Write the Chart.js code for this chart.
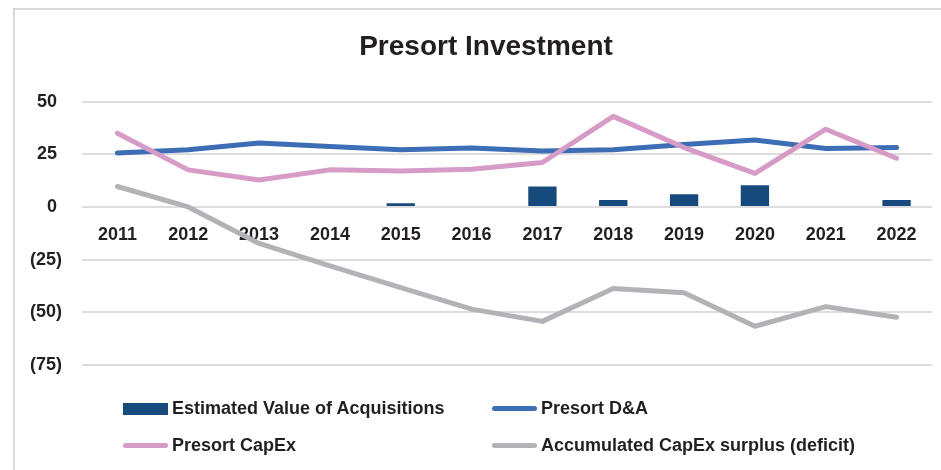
<!DOCTYPE html>
<html><head><meta charset="utf-8">
<script src="https://cdn.jsdelivr.net/npm/chart.js@4/dist/chart.umd.min.js"></script>
<style>
html,body{margin:0;padding:0;background:#fff;}
#wrap{position:relative;width:941px;height:470px;overflow:hidden;font-family:"Liberation Sans",Arial,sans-serif;}
#frame{position:absolute;left:13px;top:8px;width:940px;height:470px;border-left:2px solid #d9d9d9;border-top:2px solid #d9d9d9;}
canvas{position:absolute;left:0;top:0;}
#legend{position:absolute;left:123px;top:390px;display:grid;grid-template-columns:369px auto;grid-auto-rows:37px;}
.leg{display:flex;align-items:center;font-weight:700;font-size:18px;color:#231f20;white-space:nowrap;}
.sw{width:45px;margin-right:4px;}
</style></head>
<body><div id="wrap"><div id="frame"></div><canvas id="c" width="961" height="470"></canvas><div id="legend"></div></div>
<script>
const categories = ['2011','2012','2013','2014','2015','2016','2017','2018','2019','2020','2021','2022'];
const acquisitions = [null,null,null,null,1.8,null,9.7,3.3,6.0,10.3,null,3.3];
const presortDA = [25.6,27.1,30.3,28.7,27.1,28.0,26.6,27.1,29.6,31.8,27.7,28.2];
const presortCapEx = [35.0,17.6,12.8,17.6,17.1,17.9,21.1,43.0,28.2,15.9,36.9,23.1];
const accumulated = [9.7,0,-17.3,-28.0,-38.3,-48.5,-54.3,-38.7,-40.7,-56.6,-47.3,-52.3];
const yTicks = [50,25,0,-25,-50,-75];
const seriesNames = ['Estimated Value of Acquisitions','Presort D&A','Presort CapEx','Accumulated CapEx surplus (deficit)'];

const textColor = '#231f20';
const fontFamily = '"Liberation Sans", Arial, sans-serif';
const tickFont = {family:fontFamily, weight:'bold', size:18};

const chart = new Chart(document.getElementById('c'), {
  type: 'bar',
  data: {
    labels: categories,
    datasets: [
      {type:'bar', label:seriesNames[0], data:acquisitions, backgroundColor:'#174a7c', categoryPercentage:1, barPercentage:0.4},
      {type:'line', label:seriesNames[1], data:presortDA, borderColor:'#3d6db5', backgroundColor:'#3d6db5', borderWidth:5, pointRadius:0, tension:0, borderCapStyle:'round', borderJoinStyle:'round'},
      {type:'line', label:seriesNames[2], data:presortCapEx, borderColor:'#d69bc6', backgroundColor:'#d69bc6', borderWidth:5, pointRadius:0, tension:0, order:-1, borderCapStyle:'round', borderJoinStyle:'round'},
      {type:'line', label:seriesNames[3], data:accumulated, borderColor:'#b3b3b7', backgroundColor:'#b3b3b7', borderWidth:5, pointRadius:0, tension:0, borderCapStyle:'round', borderJoinStyle:'round'}
    ]
  },
  options: {
    responsive:false, animation:false, devicePixelRatio:1,
    layout:{padding:{left:20, right:9, top:0, bottom:105}},
    plugins:{
      legend:{display:false},
      tooltip:{enabled:false},
      title:{display:true, text:'Presort Investment', color:textColor, font:{family:fontFamily, weight:'bold', size:28}, padding:{top:30, bottom:38}}
    },
    scales:{
      x:{
        position:{y:0}, offset:true,
        grid:{display:false}, border:{display:false},
        ticks:{color:textColor, font:tickFont, padding:9, maxRotation:0, autoSkip:false},
        afterFit:s=>{s.height=0;}
      },
      y:{
        min:yTicks[yTicks.length-1], max:yTicks[0],
        afterBuildTicks:s=>{s.ticks = yTicks.map(v=>({value:v}));},
        grid:{color:'#dddddd', lineWidth:2, drawTicks:false},
        border:{display:false},
        ticks:{color:textColor, font:tickFont, padding:20, callback:v=> v<0 ? '('+(-v)+')' : v+' '},
        afterFit:s=>{s.width=62;}
      },
      yRightSpacer:{
        type:'linear', position:'right', display:true,
        grid:{display:false}, border:{display:false}, ticks:{display:false},
        afterFit:s=>{s.width=20;}
      }
    }
  }
});

const leg = document.getElementById('legend');
chart.data.datasets.forEach(ds=>{
  const item = document.createElement('div'); item.className='leg';
  const sw = document.createElement('span'); sw.className='sw';
  if (ds.type==='bar') { sw.style.height='12px'; sw.style.background=ds.backgroundColor; }
  else { sw.style.height='5px'; sw.style.borderRadius='3px'; sw.style.background=ds.borderColor; }
  const t = document.createElement('span'); t.textContent = ds.label;
  item.appendChild(sw); item.appendChild(t); leg.appendChild(item);
});
</script></body></html>
